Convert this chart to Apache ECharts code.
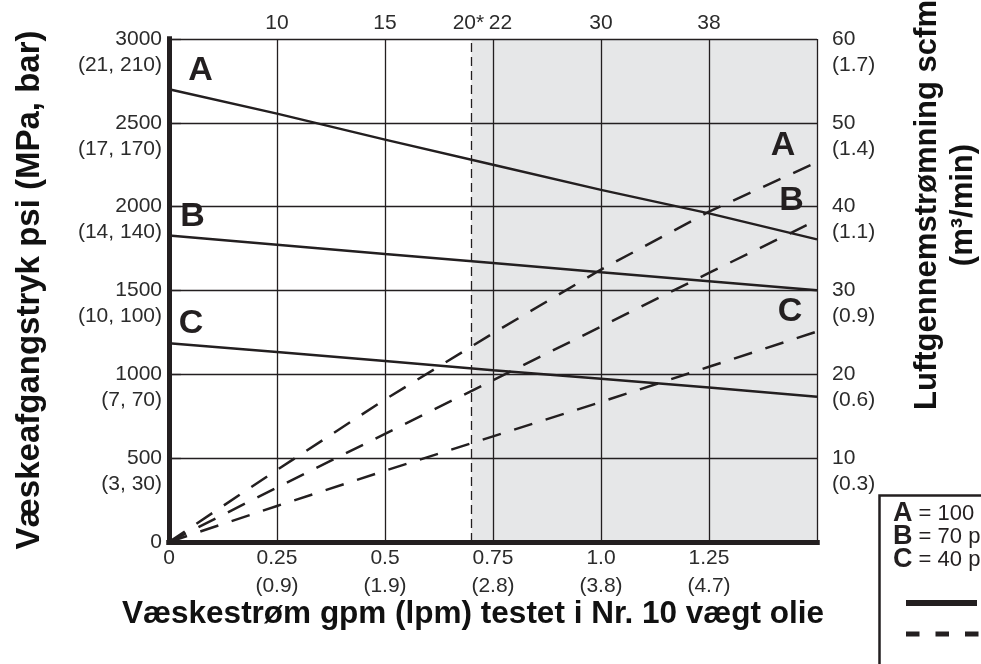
<!DOCTYPE html>
<html>
<head>
<meta charset="utf-8">
<script src="https://cdn.jsdelivr.net/npm/echarts@6/dist/echarts.min.js"></script>
<style>
  html, body { margin: 0; padding: 0; background: #fff; }
  #chart { width: 981px; height: 664px; }
</style>
</head>
<body>
<div id="chart"></div>
<script>
// Flow points (gpm) where the curves were sampled
const flowGpm = [0, 0.25, 0.5, 0.75, 1.0, 1.25, 1.5];

// Fluid outlet pressure, psi (solid curves)
const fluidPsiA = [2700, 2555, 2400, 2250, 2100, 1960, 1805];
const fluidPsiB = [1828, 1773, 1718, 1664, 1609, 1555, 1502];
const fluidPsiC = [1185, 1133, 1079, 1025, 974, 921, 867];

// Air consumption, scfm (dashed curves)
const airScfmA = [0, 8.6, 17.0, 24.9, 32.5, 39.4, 45.3];
const airScfmB = [0, 6.5, 12.9, 19.3, 25.7, 32.1, 38.4];
const airScfmC = [0, 4.3, 8.5, 12.6, 16.7, 20.9, 25.1];

const curveNames = ['A', 'B', 'C'];

// Bottom axis: gpm with lpm underneath
const gpmTicks = [0, 0.25, 0.5, 0.75, 1.0, 1.25];
const gpmTickText = ['0', '0.25', '0.5', '0.75', '1.0', '1.25'];
const lpmTickText = ['', '(0.9)', '(1.9)', '(2.8)', '(3.8)', '(4.7)'];

// Top axis labels
const topTicks = [0.25, 0.5, 0.7, 0.75, 1.0, 1.25];
const topTickText = ['10', '15', '20*', '22', '30', '38'];

// Left axis: psi with (MPa, bar)
const psiTicks = [0, 500, 1000, 1500, 2000, 2500, 3000];
const psiMetricText = ['', '(3, 30)', '(7, 70)', '(10, 100)', '(14, 140)', '(17, 170)', '(21, 210)'];

// Right axis: scfm with (m3/min)
const scfmTicks = [0, 10, 20, 30, 40, 50, 60];
const m3minText = ['', '(0.3)', '(0.6)', '(0.9)', '(1.1)', '(1.4)', '(1.7)'];

// Start of the shaded range (the 20* line)
const shadedFrom = 0.7;

const legendRows = [
  '= 100 psi (0,7 MPa, 7 bar) lufttryk',
  '= 70 psi (0,48 MPa, 4,8 bar) lufttryk',
  '= 40 psi (0,28 MPa, 2,8 bar) lufttryk'
];

const INK = '#231f20';
const LABEL = '#2b2b2b';
const FONT = '"Liberation Sans", Arial, Helvetica, sans-serif';

function idxOf(arr, v) {
  return arr.findIndex(t => Math.abs(t - v) < 1e-6);
}

function curveData(ys, tagIndex, tag, offset) {
  return flowGpm.map((x, i) => {
    const item = { value: [x, ys[i]] };
    if (i === tagIndex) {
      item.label = {
        show: true, position: 'inside', formatter: tag, offset: offset,
        fontFamily: FONT, fontWeight: 'bold', fontSize: 34, color: INK
      };
    }
    return item;
  });
}

const solidStyle = { color: INK, width: 2.5 };
const dashedStyle = { color: INK, width: 2.5, type: [19, 14] };

const baseLine = {
  type: 'line', symbol: 'circle', symbolSize: 0, showSymbol: true,
  silent: true, z: 3, label: { show: false }
};

const chart = echarts.init(document.getElementById('chart'), null, { renderer: 'canvas' });

const axisLineStyle = { show: true, lineStyle: { color: INK, width: 5, cap: 'square' } };
const gridLineStyle = { show: true, lineStyle: { color: INK, width: 1.3 } };

chart.setOption({
  animation: false,
  backgroundColor: '#ffffff',
  grid: { left: 169, top: 38, width: 648, height: 504 },
  xAxis: [
    {
      type: 'value', position: 'bottom', min: 0, max: 1.5, interval: 0.25, z: 4,
      axisLine: axisLineStyle,
      axisTick: { show: false },
      splitLine: gridLineStyle,
      axisLabel: {
        margin: 2, fontFamily: FONT, fontSize: 21, color: LABEL, lineHeight: 28,
        formatter: v => {
          const i = idxOf(gpmTicks, v);
          if (i < 0) return '';
          return lpmTickText[i] ? gpmTickText[i] + '\n' + lpmTickText[i] : gpmTickText[i];
        }
      }
    },
    {
      type: 'value', position: 'top', min: 0, max: 1.5, interval: 0.05, z: 4,
      axisLine: axisLineStyle,
      axisTick: { show: false },
      splitLine: { show: false },
      axisLabel: {
        margin: 5, fontFamily: FONT, fontSize: 21, color: LABEL,
        formatter: v => {
          const i = idxOf(topTicks, v);
          if (i < 0) return '';
          const t = topTickText[i];
          if (t === '20*') return '{l|' + t + '}';
          if (t === '22') return '{r|' + t + '}';
          return t;
        },
        rich: {
          l: { fontFamily: FONT, fontSize: 21, color: LABEL, padding: [0, 6, 0, 0] },
          r: { fontFamily: FONT, fontSize: 21, color: LABEL, padding: [0, 0, 0, 15] }
        }
      }
    }
  ],
  yAxis: [
    {
      type: 'value', position: 'left', min: 0, max: 3000, interval: 500, z: 4,
      axisLine: axisLineStyle,
      axisTick: { show: false },
      splitLine: gridLineStyle,
      axisLabel: {
        margin: 7, fontFamily: FONT, fontSize: 21, color: LABEL, lineHeight: 26,
        formatter: v => {
          const i = idxOf(psiTicks, v);
          return '\n' + v + '\n' + psiMetricText[i];
        }
      }
    },
    {
      type: 'value', position: 'right', min: 0, max: 60, interval: 10, z: 4,
      axisLine: axisLineStyle,
      axisTick: { show: true, length: 12, lineStyle: { color: INK, width: 1.3 } },
      splitLine: { show: false },
      axisLabel: {
        margin: 15, fontFamily: FONT, fontSize: 21, color: LABEL, lineHeight: 26,
        formatter: v => {
          const i = idxOf(scfmTicks, v);
          if (i <= 0) return '';
          return '\n' + v + '\n' + m3minText[i];
        }
      }
    }
  ],
  series: [
    Object.assign({}, baseLine, {
      name: 'psi ' + curveNames[0], yAxisIndex: 0, lineStyle: solidStyle,
      data: curveData(fluidPsiA, 0, curveNames[0], [31.5, -18.5]),
      markArea: {
        silent: true, z: 1,
        itemStyle: { color: '#e6e7e8' },
        data: [[{ xAxis: shadedFrom }, { xAxis: 1.5 }]]
      },
      markLine: {
        silent: true, symbol: 'none', z: 5,
        label: { show: false },
        lineStyle: { color: INK, width: 1.3, type: [9, 5] },
        data: [{ xAxis: shadedFrom }]
      }
    }),
    Object.assign({}, baseLine, {
      name: 'psi ' + curveNames[1], yAxisIndex: 0, lineStyle: solidStyle,
      data: curveData(fluidPsiB, 0, curveNames[1], [23.5, -19])
    }),
    Object.assign({}, baseLine, {
      name: 'psi ' + curveNames[2], yAxisIndex: 0, lineStyle: solidStyle,
      data: curveData(fluidPsiC, 0, curveNames[2], [22, -20])
    }),
    Object.assign({}, baseLine, {
      name: 'scfm ' + curveNames[0], yAxisIndex: 1, lineStyle: dashedStyle,
      data: curveData(airScfmA, flowGpm.length - 1, curveNames[0], [-34, -16.5])
    }),
    Object.assign({}, baseLine, {
      name: 'scfm ' + curveNames[1], yAxisIndex: 1, lineStyle: dashedStyle,
      data: curveData(airScfmB, flowGpm.length - 1, curveNames[1], [-25.5, -19])
    }),
    Object.assign({}, baseLine, {
      name: 'scfm ' + curveNames[2], yAxisIndex: 1, lineStyle: dashedStyle,
      data: curveData(airScfmC, flowGpm.length - 1, curveNames[2], [-27, -19.5])
    })
  ],
  graphic: [
    {
      type: 'text', x: 30, y: 290, rotation: Math.PI / 2,
      style: {
        text: 'Væskeafgangstryk psi (MPa, bar)', fill: '#111',
        fontFamily: FONT, fontWeight: 'bold', fontSize: 33,
        align: 'center', verticalAlign: 'middle'
      }
    },
    {
      type: 'text', x: 473, y: 614,
      style: {
        text: 'Væskestrøm gpm (lpm) testet i Nr. 10 vægt olie', fill: '#111',
        fontFamily: FONT, fontWeight: 'bold', fontSize: 31.5,
        align: 'center', verticalAlign: 'middle'
      }
    },
    {
      type: 'text', x: 945, y: 205, rotation: Math.PI / 2,
      style: {
        text: 'Luftgennemstrømning scfm\n(m³/min)', fill: '#111',
        fontFamily: FONT, fontWeight: 'bold', fontSize: 31, lineHeight: 36,
        align: 'center', verticalAlign: 'middle'
      }
    },
    {
      type: 'group', z: 10,
      children: [
        {
          type: 'rect', shape: { x: 879.5, y: 495.5, width: 220, height: 220 },
          style: { fill: '#fff', stroke: INK, lineWidth: 2.5 }
        }
      ].concat(curveNames.map((n, i) => ({
        type: 'text', x: 893, y: 514 + i * 23,
        style: {
          text: '{b|' + n + '}{n| ' + legendRows[i] + '}',
          verticalAlign: 'middle', align: 'left',
          rich: {
            b: { fontFamily: FONT, fontWeight: 'bold', fontSize: 27, fill: INK },
            n: { fontFamily: FONT, fontSize: 22, fill: INK }
          }
        }
      }))).concat([
        {
          type: 'line', shape: { x1: 906, y1: 603, x2: 977, y2: 603 },
          style: { stroke: INK, lineWidth: 6 }
        },
        {
          type: 'line', shape: { x1: 906, y1: 634, x2: 995, y2: 634 },
          style: { stroke: INK, lineWidth: 5, lineDash: [13.5, 16] }
        }
      ])
    }
  ]
});
</script>
</body>
</html>
